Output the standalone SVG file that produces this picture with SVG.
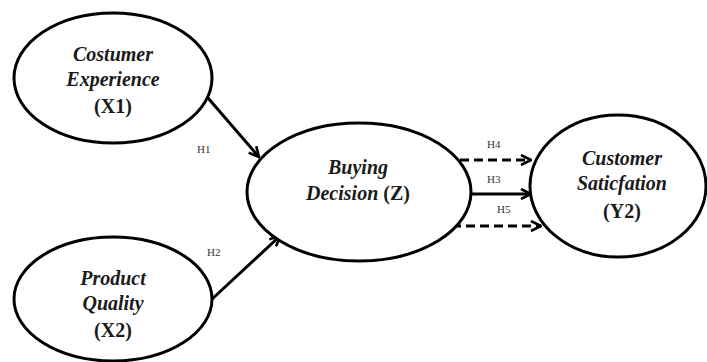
<svg xmlns="http://www.w3.org/2000/svg" width="707" height="362" viewBox="0 0 707 362">
<defs>
<marker id="ah" viewBox="0 0 12 12" refX="11" refY="6" markerWidth="12" markerHeight="12" markerUnits="userSpaceOnUse" orient="auto">
<path d="M1,1 L11,6 L1,11" fill="none" stroke="#000" stroke-width="2.6"/>
</marker>
<style>
.node ellipse{fill:#fff;stroke:#000;stroke-width:3}
.t{font-family:"Liberation Serif","Times New Roman",serif;font-size:20px;font-weight:bold;text-anchor:middle;fill:#1a1a1a}
.i{font-style:italic}
.e{stroke:#000;stroke-width:3;fill:none;marker-end:url(#ah)}
.d{stroke-dasharray:9,5}
.lb{font-family:"Liberation Serif","Times New Roman",serif;font-size:11px;fill:#333}
</style>
</defs>
<rect width="707" height="362" fill="#fff"/>
<g id="connectors">
<line class="e" x1="208" y1="98" x2="259" y2="157"/>
<line class="e" x1="211" y1="300" x2="280" y2="236"/>
<line class="e d" x1="460" y1="160" x2="531" y2="160"/>
<line class="e" x1="471" y1="194" x2="531" y2="194"/>
<line class="e d" x1="452" y1="226" x2="541" y2="226"/>
<text class="lb" x="197" y="153">H1</text>
<text class="lb" x="207" y="256">H2</text>
<text class="lb" x="487" y="148">H4</text>
<text class="lb" x="487" y="183">H3</text>
<text class="lb" x="497" y="213">H5</text>
</g>
<g id="x1" class="node">
<ellipse cx="113" cy="78" rx="99" ry="65"/>
<text class="t i" x="113" y="61">Costumer</text>
<text class="t i" x="113" y="86">Experience</text>
<text class="t" x="113" y="113">(X1)</text>
</g>
<g id="x2" class="node">
<ellipse cx="113" cy="299" rx="99" ry="62"/>
<text class="t i" x="113" y="285">Product</text>
<text class="t i" x="113" y="310">Quality</text>
<text class="t" x="113" y="337">(X2)</text>
</g>
<g id="z" class="node">
<ellipse cx="359" cy="192" rx="112" ry="69"/>
<text class="t i" x="358" y="174">Buying</text>
<text class="t" x="358" y="200"><tspan class="i">Decision</tspan> (Z)</text>
</g>
<g id="y2" class="node">
<ellipse cx="618" cy="186" rx="88" ry="71"/>
<text class="t i" x="622" y="165">Customer</text>
<text class="t i" x="622" y="190">Saticfation</text>
<text class="t" x="622" y="218">(Y2)</text>
</g>
</svg>
